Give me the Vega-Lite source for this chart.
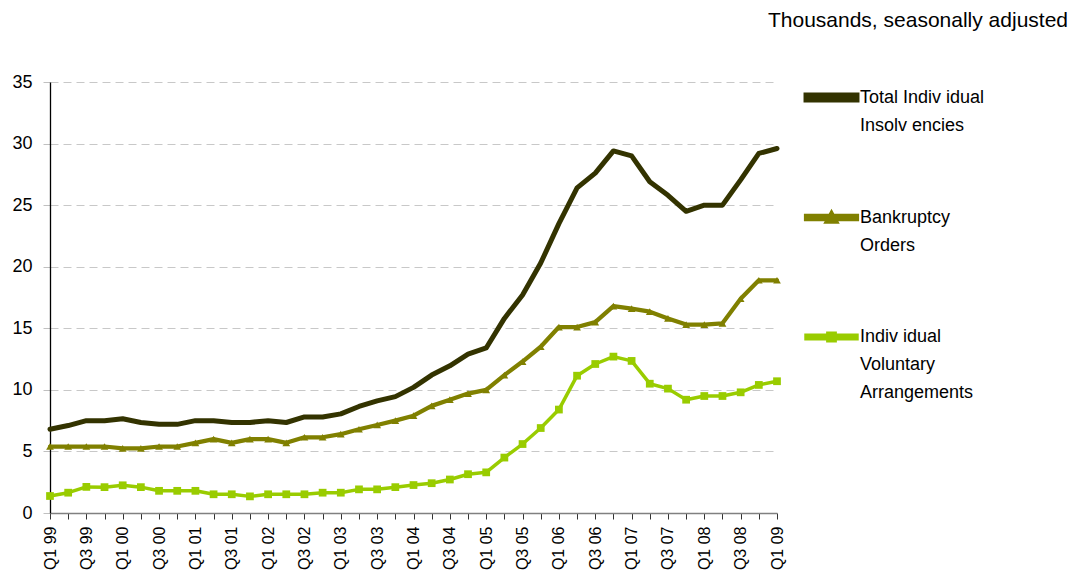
{
  "$schema": "https://vega.github.io/schema/vega-lite/v6.json",
  "width": 727,
  "height": 431,
  "autosize": {"type": "none"},
  "padding": {"left": 50, "top": 82, "right": 300, "bottom": 65},
  "background": "white",
  "config": {
    "font": "Liberation Sans",
    "view": {"stroke": null}
  },
  "title": {
    "text": "Thousands, seasonally adjusted",
    "anchor": "end",
    "frame": "group",
    "orient": "top",
    "dx": 291,
    "offset": 38,
    "font": "Liberation Sans",
    "fontSize": 21,
    "fontWeight": "normal",
    "color": "#000000"
  },
  "data": {
    "values": [
      {"q": "Q1 99", "s": "Total Individual Insolvencies", "v": 6.8},
      {"q": "Q2 99", "s": "Total Individual Insolvencies", "v": 7.1},
      {"q": "Q3 99", "s": "Total Individual Insolvencies", "v": 7.5},
      {"q": "Q4 99", "s": "Total Individual Insolvencies", "v": 7.5},
      {"q": "Q1 00", "s": "Total Individual Insolvencies", "v": 7.65},
      {"q": "Q2 00", "s": "Total Individual Insolvencies", "v": 7.35},
      {"q": "Q3 00", "s": "Total Individual Insolvencies", "v": 7.2},
      {"q": "Q4 00", "s": "Total Individual Insolvencies", "v": 7.2},
      {"q": "Q1 01", "s": "Total Individual Insolvencies", "v": 7.5},
      {"q": "Q2 01", "s": "Total Individual Insolvencies", "v": 7.5},
      {"q": "Q3 01", "s": "Total Individual Insolvencies", "v": 7.35},
      {"q": "Q4 01", "s": "Total Individual Insolvencies", "v": 7.35},
      {"q": "Q1 02", "s": "Total Individual Insolvencies", "v": 7.5},
      {"q": "Q2 02", "s": "Total Individual Insolvencies", "v": 7.35},
      {"q": "Q3 02", "s": "Total Individual Insolvencies", "v": 7.8},
      {"q": "Q4 02", "s": "Total Individual Insolvencies", "v": 7.8},
      {"q": "Q1 03", "s": "Total Individual Insolvencies", "v": 8.05},
      {"q": "Q2 03", "s": "Total Individual Insolvencies", "v": 8.65},
      {"q": "Q3 03", "s": "Total Individual Insolvencies", "v": 9.1},
      {"q": "Q4 03", "s": "Total Individual Insolvencies", "v": 9.45},
      {"q": "Q1 04", "s": "Total Individual Insolvencies", "v": 10.2},
      {"q": "Q2 04", "s": "Total Individual Insolvencies", "v": 11.2},
      {"q": "Q3 04", "s": "Total Individual Insolvencies", "v": 11.95},
      {"q": "Q4 04", "s": "Total Individual Insolvencies", "v": 12.9},
      {"q": "Q1 05", "s": "Total Individual Insolvencies", "v": 13.4},
      {"q": "Q2 05", "s": "Total Individual Insolvencies", "v": 15.8},
      {"q": "Q3 05", "s": "Total Individual Insolvencies", "v": 17.7},
      {"q": "Q4 05", "s": "Total Individual Insolvencies", "v": 20.3},
      {"q": "Q1 06", "s": "Total Individual Insolvencies", "v": 23.5},
      {"q": "Q2 06", "s": "Total Individual Insolvencies", "v": 26.4},
      {"q": "Q3 06", "s": "Total Individual Insolvencies", "v": 27.6},
      {"q": "Q4 06", "s": "Total Individual Insolvencies", "v": 29.4},
      {"q": "Q1 07", "s": "Total Individual Insolvencies", "v": 29.0},
      {"q": "Q2 07", "s": "Total Individual Insolvencies", "v": 26.9},
      {"q": "Q3 07", "s": "Total Individual Insolvencies", "v": 25.8},
      {"q": "Q4 07", "s": "Total Individual Insolvencies", "v": 24.5},
      {"q": "Q1 08", "s": "Total Individual Insolvencies", "v": 25.0},
      {"q": "Q2 08", "s": "Total Individual Insolvencies", "v": 25.0},
      {"q": "Q3 08", "s": "Total Individual Insolvencies", "v": 27.05},
      {"q": "Q4 08", "s": "Total Individual Insolvencies", "v": 29.2},
      {"q": "Q1 09", "s": "Total Individual Insolvencies", "v": 29.6},
      {"q": "Q1 99", "s": "Bankruptcy Orders", "v": 5.4},
      {"q": "Q2 99", "s": "Bankruptcy Orders", "v": 5.4},
      {"q": "Q3 99", "s": "Bankruptcy Orders", "v": 5.4},
      {"q": "Q4 99", "s": "Bankruptcy Orders", "v": 5.4},
      {"q": "Q1 00", "s": "Bankruptcy Orders", "v": 5.25},
      {"q": "Q2 00", "s": "Bankruptcy Orders", "v": 5.25},
      {"q": "Q3 00", "s": "Bankruptcy Orders", "v": 5.4},
      {"q": "Q4 00", "s": "Bankruptcy Orders", "v": 5.4},
      {"q": "Q1 01", "s": "Bankruptcy Orders", "v": 5.7},
      {"q": "Q2 01", "s": "Bankruptcy Orders", "v": 6.0},
      {"q": "Q3 01", "s": "Bankruptcy Orders", "v": 5.7},
      {"q": "Q4 01", "s": "Bankruptcy Orders", "v": 6.0},
      {"q": "Q1 02", "s": "Bankruptcy Orders", "v": 6.0},
      {"q": "Q2 02", "s": "Bankruptcy Orders", "v": 5.7},
      {"q": "Q3 02", "s": "Bankruptcy Orders", "v": 6.15},
      {"q": "Q4 02", "s": "Bankruptcy Orders", "v": 6.15},
      {"q": "Q1 03", "s": "Bankruptcy Orders", "v": 6.4},
      {"q": "Q2 03", "s": "Bankruptcy Orders", "v": 6.8},
      {"q": "Q3 03", "s": "Bankruptcy Orders", "v": 7.15},
      {"q": "Q4 03", "s": "Bankruptcy Orders", "v": 7.5},
      {"q": "Q1 04", "s": "Bankruptcy Orders", "v": 7.9},
      {"q": "Q2 04", "s": "Bankruptcy Orders", "v": 8.7},
      {"q": "Q3 04", "s": "Bankruptcy Orders", "v": 9.2},
      {"q": "Q4 04", "s": "Bankruptcy Orders", "v": 9.7},
      {"q": "Q1 05", "s": "Bankruptcy Orders", "v": 10.0},
      {"q": "Q2 05", "s": "Bankruptcy Orders", "v": 11.2},
      {"q": "Q3 05", "s": "Bankruptcy Orders", "v": 12.3},
      {"q": "Q4 05", "s": "Bankruptcy Orders", "v": 13.5},
      {"q": "Q1 06", "s": "Bankruptcy Orders", "v": 15.1},
      {"q": "Q2 06", "s": "Bankruptcy Orders", "v": 15.1},
      {"q": "Q3 06", "s": "Bankruptcy Orders", "v": 15.5},
      {"q": "Q4 06", "s": "Bankruptcy Orders", "v": 16.8},
      {"q": "Q1 07", "s": "Bankruptcy Orders", "v": 16.6},
      {"q": "Q2 07", "s": "Bankruptcy Orders", "v": 16.35},
      {"q": "Q3 07", "s": "Bankruptcy Orders", "v": 15.8},
      {"q": "Q4 07", "s": "Bankruptcy Orders", "v": 15.3},
      {"q": "Q1 08", "s": "Bankruptcy Orders", "v": 15.3},
      {"q": "Q2 08", "s": "Bankruptcy Orders", "v": 15.4},
      {"q": "Q3 08", "s": "Bankruptcy Orders", "v": 17.4},
      {"q": "Q4 08", "s": "Bankruptcy Orders", "v": 18.9},
      {"q": "Q1 09", "s": "Bankruptcy Orders", "v": 18.9},
      {"q": "Q1 99", "s": "Individual Voluntary Arrangements", "v": 1.38},
      {"q": "Q2 99", "s": "Individual Voluntary Arrangements", "v": 1.65},
      {"q": "Q3 99", "s": "Individual Voluntary Arrangements", "v": 2.12},
      {"q": "Q4 99", "s": "Individual Voluntary Arrangements", "v": 2.1},
      {"q": "Q1 00", "s": "Individual Voluntary Arrangements", "v": 2.25},
      {"q": "Q2 00", "s": "Individual Voluntary Arrangements", "v": 2.1},
      {"q": "Q3 00", "s": "Individual Voluntary Arrangements", "v": 1.8},
      {"q": "Q4 00", "s": "Individual Voluntary Arrangements", "v": 1.8},
      {"q": "Q1 01", "s": "Individual Voluntary Arrangements", "v": 1.8},
      {"q": "Q2 01", "s": "Individual Voluntary Arrangements", "v": 1.52},
      {"q": "Q3 01", "s": "Individual Voluntary Arrangements", "v": 1.52},
      {"q": "Q4 01", "s": "Individual Voluntary Arrangements", "v": 1.35},
      {"q": "Q1 02", "s": "Individual Voluntary Arrangements", "v": 1.52},
      {"q": "Q2 02", "s": "Individual Voluntary Arrangements", "v": 1.52},
      {"q": "Q3 02", "s": "Individual Voluntary Arrangements", "v": 1.52},
      {"q": "Q4 02", "s": "Individual Voluntary Arrangements", "v": 1.65},
      {"q": "Q1 03", "s": "Individual Voluntary Arrangements", "v": 1.65},
      {"q": "Q2 03", "s": "Individual Voluntary Arrangements", "v": 1.92},
      {"q": "Q3 03", "s": "Individual Voluntary Arrangements", "v": 1.92},
      {"q": "Q4 03", "s": "Individual Voluntary Arrangements", "v": 2.1},
      {"q": "Q1 04", "s": "Individual Voluntary Arrangements", "v": 2.27},
      {"q": "Q2 04", "s": "Individual Voluntary Arrangements", "v": 2.42},
      {"q": "Q3 04", "s": "Individual Voluntary Arrangements", "v": 2.72},
      {"q": "Q4 04", "s": "Individual Voluntary Arrangements", "v": 3.15},
      {"q": "Q1 05", "s": "Individual Voluntary Arrangements", "v": 3.3},
      {"q": "Q2 05", "s": "Individual Voluntary Arrangements", "v": 4.5},
      {"q": "Q3 05", "s": "Individual Voluntary Arrangements", "v": 5.6},
      {"q": "Q4 05", "s": "Individual Voluntary Arrangements", "v": 6.9},
      {"q": "Q1 06", "s": "Individual Voluntary Arrangements", "v": 8.4},
      {"q": "Q2 06", "s": "Individual Voluntary Arrangements", "v": 11.15},
      {"q": "Q3 06", "s": "Individual Voluntary Arrangements", "v": 12.1},
      {"q": "Q4 06", "s": "Individual Voluntary Arrangements", "v": 12.7},
      {"q": "Q1 07", "s": "Individual Voluntary Arrangements", "v": 12.35},
      {"q": "Q2 07", "s": "Individual Voluntary Arrangements", "v": 10.5},
      {"q": "Q3 07", "s": "Individual Voluntary Arrangements", "v": 10.1},
      {"q": "Q4 07", "s": "Individual Voluntary Arrangements", "v": 9.2},
      {"q": "Q1 08", "s": "Individual Voluntary Arrangements", "v": 9.5},
      {"q": "Q2 08", "s": "Individual Voluntary Arrangements", "v": 9.5},
      {"q": "Q3 08", "s": "Individual Voluntary Arrangements", "v": 9.8},
      {"q": "Q4 08", "s": "Individual Voluntary Arrangements", "v": 10.4},
      {"q": "Q1 09", "s": "Individual Voluntary Arrangements", "v": 10.7}
    ]
  },
  "encoding": {
    "x": {
      "field": "q",
      "type": "ordinal",
      "sort": null,
      "scale": {"type": "point", "padding": 0},
      "axis": {
        "title": null,
        "labelAngle": 270,
        "labelAlign": "right",
        "labelBaseline": "middle",
        "labelFontSize": 16,
        "labelColor": "#000000",
        "labelPadding": 7,
        "labelOverlap": false,
        "labelBound": false,
        "labelExpr": "(indexof(datum.label, 'Q1') == 0 || indexof(datum.label, 'Q3') == 0) ? datum.label : ''",
        "ticks": true,
        "tickSize": 6,
        "tickColor": "#333333",
        "domainColor": "#808080",
        "domainWidth": 1.5,
        "grid": false
      }
    },
    "y": {
      "field": "v",
      "type": "quantitative",
      "scale": {"domain": [0, 35], "nice": false, "zero": true},
      "axis": {
        "title": null,
        "values": [0, 5, 10, 15, 20, 25, 30, 35],
        "labelFontSize": 18,
        "labelColor": "#000000",
        "labelPadding": 11,
        "tickSize": 7,
        "tickColor": "#c0c0c0",
        "domainColor": "#000000",
        "domainWidth": 1.3,
        "grid": true,
        "gridColor": "#c8c8c8",
        "gridDash": [8, 5],
        "gridWidth": 1
      }
    },
    "color": {
      "field": "s",
      "type": "nominal",
      "scale": {
        "domain": ["Total Individual Insolvencies", "Bankruptcy Orders", "Individual Voluntary Arrangements"],
        "range": ["#333300", "#808000", "#99cc00"]
      },
      "legend": {
        "title": null,
        "orient": "none",
        "legendX": 753,
        "legendY": -13,
        "padding": 0,
        "symbolSize": 2704,
        "symbolType": "stroke",
        "labelFontSize": 18,
        "labelColor": "#000000",
        "labelOffset": 0,
        "labelLimit": 300,
        "labelBaseline": "top",
        "rowPadding": 54,
        "labelExpr": "datum.value == 'Total Individual Insolvencies' ? ['Total Indiv idual', 'Insolv encies'] : datum.value == 'Bankruptcy Orders' ? ['Bankruptcy', 'Orders'] : ['Indiv idual', 'Voluntary', 'Arrangements']",
        "encode": {
          "labels": {"update": {"lineHeight": {"value": 28}, "dy": {"value": -9}}},
          "symbols": {
            "update": {
              "shape": {"signal": "datum.value == 'Total Individual Insolvencies' ? 'M-0.98,-0.1H0.98V0.1H-0.98Z' : datum.value == 'Bankruptcy Orders' ? 'M-0.98,-0.065H0.98V0.065H-0.98Z M-0.18,0.16L0,-0.17L0.18,0.16Z' : 'M-0.98,-0.065H0.98V0.065H-0.98Z M-0.14,-0.14H0.14V0.14H-0.14Z'"},
              "fill": {"signal": "scale('color', datum.value)"},
              "fillOpacity": {"value": 1},
              "strokeWidth": {"value": 0}
            }
          }
        }
      }
    }
  },
  "layer": [
    {
      "mark": {"type": "line", "strokeJoin": "round", "strokeCap": "round"},
      "encoding": {
        "strokeWidth": {
          "field": "s",
          "type": "nominal",
          "scale": {
            "domain": ["Total Individual Insolvencies", "Bankruptcy Orders", "Individual Voluntary Arrangements"],
            "range": [5, 3.5, 3.5]
          },
          "legend": null
        }
      }
    },
    {
      "transform": [{"filter": "datum.s != 'Total Individual Insolvencies'"}],
      "mark": {"type": "point", "filled": true, "opacity": 1},
      "encoding": {
        "shape": {
          "field": "s",
          "type": "nominal",
          "scale": {
            "domain": ["Bankruptcy Orders", "Individual Voluntary Arrangements"],
            "range": ["triangle-up", "square"]
          },
          "legend": null
        },
        "size": {"value": 60}
      }
    }
  ]
}
